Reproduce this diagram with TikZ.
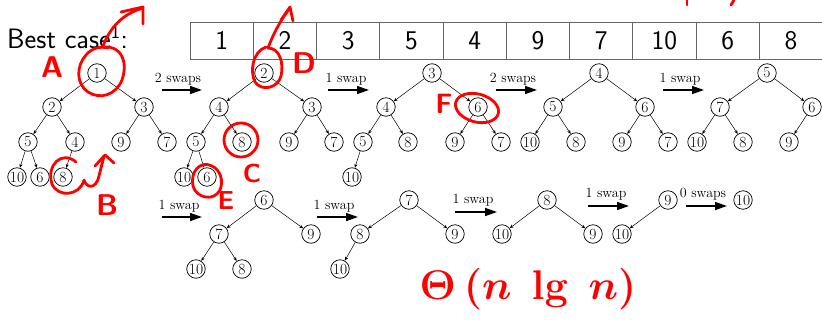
\documentclass[tikz,border=0pt]{standalone}
\usetikzlibrary{arrows.meta}
\begin{document}
\begin{tikzpicture}[x=1pt,y=-1pt,
  hn/.style={circle,draw,minimum size=18.5pt,inner sep=0pt,line width=0.7pt,font=\fontsize{15.5}{15.5}\selectfont},
  te/.style={-{Stealth[length=4pt,width=3.2pt]},line width=0.5pt},
  bigarr/.style={-{Triangle[length=12pt,width=8pt]},line width=1.5pt},
  lab/.style={anchor=base,inner sep=0pt,font=\fontsize{14}{14}\selectfont},
  cell/.style={draw=black!60,line width=0.9pt,minimum width=63.25pt,minimum height=37pt,inner sep=0pt,font=\sffamily\fontsize{27}{27}\selectfont},
  ann/.style={red,line width=2.8pt,line cap=round,line join=round},
  annt/.style={red,inner sep=0pt,font=\sffamily\bfseries\fontsize{30}{30}\selectfont}]
\useasboundingbox (0,0) rectangle (822,335);

% title
\node[anchor=base west,inner sep=0pt,font=\sffamily\fontsize{28}{28}\selectfont] (title) at (7,48) {Best case\textsuperscript{1}:};

% array
\foreach \v [count=\i] in {1,2,3,5,4,9,7,10,6,8}{
  \node[cell] (k\i) at ({190+63.25*(\i-0.5)},40.5) {\v};
}

% tree 1
\node[hn] (a1) at (97,73) {1};
\node[hn] (a2) at (52,107) {2};
\node[hn] (a3) at (144,107) {3};
\node[hn] (a4) at (28,142) {5};
\node[hn] (a5) at (75,142) {4};
\node[hn] (a6) at (121,142) {9};
\node[hn] (a7) at (167,142) {7};
\node[hn] (a8) at (17,177) {10};
\node[hn] (a9) at (40,177) {6};
\node[hn] (a10) at (63,177) {8};
\foreach \p/\c in {a1/a2,a1/a3,a2/a4,a2/a5,a3/a6,a3/a7,a4/a8,a4/a9,a5/a10}
  \draw[te] (\p) -- (\c);

% tree 2
\node[hn] (b1) at (264,73) {2};
\node[hn] (b2) at (219,107) {4};
\node[hn] (b3) at (312,107) {3};
\node[hn] (b4) at (196,142) {5};
\node[hn] (b5) at (242,142) {8};
\node[hn] (b6) at (289,142) {9};
\node[hn] (b7) at (334,142) {7};
\node[hn] (b8) at (184,177) {10};
\node[hn] (b9) at (207,177) {6};
\foreach \p/\c in {b1/b2,b1/b3,b2/b4,b2/b5,b3/b6,b3/b7,b4/b8,b4/b9}
  \draw[te] (\p) -- (\c);

% tree 3
\node[hn] (c1) at (432,73) {3};
\node[hn] (c2) at (386,107) {4};
\node[hn] (c3) at (478,107) {6};
\node[hn] (c4) at (363,142) {5};
\node[hn] (c5) at (408,142) {8};
\node[hn] (c6) at (455,142) {9};
\node[hn] (c7) at (501,142) {7};
\node[hn] (c8) at (352,177) {10};
\foreach \p/\c in {c1/c2,c1/c3,c2/c4,c2/c5,c3/c6,c3/c7,c4/c8}
  \draw[te] (\p) -- (\c);

% tree 4
\node[hn] (d1) at (599,73) {4};
\node[hn] (d2) at (553,107) {5};
\node[hn] (d3) at (645,107) {6};
\node[hn] (d4) at (530,142) {10};
\node[hn] (d5) at (576,142) {8};
\node[hn] (d6) at (622,142) {9};
\node[hn] (d7) at (668,142) {7};
\foreach \p/\c in {d1/d2,d1/d3,d2/d4,d2/d5,d3/d6,d3/d7}
  \draw[te] (\p) -- (\c);

% tree 5
\node[hn] (e1) at (767,73) {5};
\node[hn] (e2) at (720,107) {7};
\node[hn] (e3) at (812,107) {6};
\node[hn] (e4) at (697,142) {10};
\node[hn] (e5) at (743,142) {8};
\node[hn] (e6) at (789,142) {9};
\foreach \p/\c in {e1/e2,e1/e3,e2/e4,e2/e5,e3/e6}
  \draw[te] (\p) -- (\c);

% tree 6
\node[hn] (f1) at (264,200) {6};
\node[hn] (f2) at (219,234) {7};
\node[hn] (f3) at (311,234) {9};
\node[hn] (f4) at (196,269) {10};
\node[hn] (f5) at (242,269) {8};
\foreach \p/\c in {f1/f2,f1/f3,f2/f4,f2/f5}
  \draw[te] (\p) -- (\c);

% tree 7
\node[hn] (g1) at (409,200) {7};
\node[hn] (g2) at (360,234) {8};
\node[hn] (g3) at (455,234) {9};
\node[hn] (g4) at (340,269) {10};
\foreach \p/\c in {g1/g2,g1/g3,g2/g4}
  \draw[te] (\p) -- (\c);

% tree 8
\node[hn] (h1) at (547,200) {8};
\node[hn] (h2) at (502,234) {10};
\node[hn] (h3) at (593,234) {9};
\foreach \p/\c in {h1/h2,h1/h3}
  \draw[te] (\p) -- (\c);

% tree 9
\node[hn] (i1) at (668,200) {9};
\node[hn] (i2) at (622,234) {10};
\draw[te] (i1) -- (i2);

% tree 10
\node[hn] (j1) at (743,200) {10};

% step arrows
\foreach \n/\xa/\xb/\yy/\xl/\yl/\t in {
  1/162/202/90/178/82/2 swaps,
  2/328/369/90/346/82/1 swap,
  3/496/537/90/513/82/2 swaps,
  4/663/704/90/680/82/1 swap,
  5/162/202/217/179/209/1 swap,
  6/317/358/217/334/209/1 swap,
  7/455/497/212/473/203/1 swap,
  8/588/629/206/606/197/1 swap,
  9/686/727/206/703/197/0 swaps}{
  \coordinate (s\n) at (\xa,\yy);
  \coordinate (t\n) at (\xb,\yy);
  \draw[bigarr] (s\n) -- (t\n);
  \node[lab] (l\n) at (\xl,\yl) {\t};
}

% ---- red annotations ----
% A: circle round root 1, arrow up
\draw[ann] (104,47) .. controls (122,46) and (128,62) .. (122,80)
  .. controls (116,95) and (100,100) .. (88,92)
  .. controls (76,84) and (76,66) .. (86,55)
  .. controls (92,48) and (100,46) .. (108,48);
\draw[ann] (103,46) .. controls (110,28) and (122,14) .. (143,8);
\draw[ann] (121,12) -- (143,7) -- (143,24);
\node[annt] (la) at (52,67) {A};

% B: circle round 8, curl arrow
\draw[ann] (76,162) .. controls (62,150) and (46,165) .. (52,184)
  .. controls (58,198) and (80,196) .. (84,180)
  .. controls (86,188) and (96,190) .. (99,176) -- (104,156);
\draw[ann] (95,166) -- (105,155) -- (114,163);
\node[annt] (lb) at (107,205) {B};

% C: circle round 8 of tree 2
\draw[ann] (241,140) ellipse[x radius=17,y radius=17];
\node[annt,font=\sffamily\bfseries\fontsize{26}{26}\selectfont] (lc) at (252,173) {C};

% D: circle round root 2, arrow up
\draw[ann] (268,48) .. controls (280,48) and (284,64) .. (281,76)
  .. controls (278,88) and (262,92) .. (255,82)
  .. controls (250,72) and (252,52) .. (266,47);
\draw[ann] (268,48) .. controls (274,32) and (282,18) .. (290,8);
\draw[ann] (281,20) -- (290,7) -- (293,21);
\node[annt] (ld) at (304,63) {D};

% E: circle round 6 of tree 2
\draw[ann] (212,166) .. controls (200,160) and (190,172) .. (193,186)
  .. controls (196,198) and (214,202) .. (220,190)
  .. controls (224,180) and (220,170) .. (212,166);
\node[annt,font=\sffamily\bfseries\fontsize{26}{26}\selectfont] (le) at (226,201) {E};

% F: circle round 6 of tree 3
\draw[ann,rotate around={-15:(477,108)}] (477,108) ellipse[x radius=22,y radius=14];
\node[annt,font=\sffamily\bfseries\fontsize{28}{28}\selectfont] (lf) at (444,104) {F};

% marks at top right
\draw[ann] (687,0) -- (687,5);
\draw[ann] (734,0) -- (731,5);

% Theta(n lg n)
\node[red,inner sep=0pt,scale=2,font=\fontsize{20}{20}\selectfont\boldmath] (th) at (528,289) {$\Theta\,(n\ \lg\ n)$};
\end{tikzpicture}
\end{document}
